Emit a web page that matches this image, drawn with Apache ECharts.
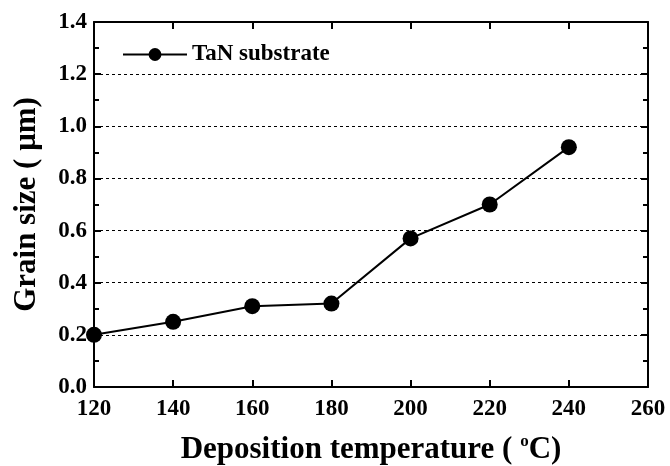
<!DOCTYPE html>
<html>
<head>
<meta charset="utf-8">
<script src="https://cdn.jsdelivr.net/npm/echarts@6/dist/echarts.min.js"></script>
<style>
  html, body { margin: 0; padding: 0; background: #fff; }
  #chart { width: 670px; height: 466px; }
</style>
</head>
<body>
<div id="chart"></div>
<script>
// data
var temperatures = [120, 140, 160, 180, 200, 220, 240];
var grainSize = [0.20, 0.25, 0.31, 0.32, 0.57, 0.70, 0.92];
var seriesName = 'TaN substrate';

var font = 'Liberation Serif';

var chart = echarts.init(document.getElementById('chart'));

chart.setOption({
  animation: false,
  grid: { left: 94, right: 22, top: 22, bottom: 79, outerBoundsMode: 'none' },
  legend: {
    left: 117,
    top: 38,
    itemWidth: 64,
    itemHeight: 16,
    itemGap: 4,
    textStyle: { fontFamily: font, fontWeight: 'bold', fontSize: 23, color: '#000' },
    data: [seriesName]
  },
  xAxis: [{
    type: 'value',
    min: 120, max: 260, interval: 20,
    axisLine: { onZero: false, lineStyle: { color: '#000', width: 2 } },
    axisTick: { inside: true, length: 7, lineStyle: { color: '#000', width: 2 } },
    axisLabel: { margin: 11, fontFamily: font, fontWeight: 'bold', fontSize: 23, color: '#000' },
    splitLine: { show: false },
    name: '{t|Deposition temperature ( }{sup|o}{t|C)}',
    nameLocation: 'middle',
    nameGap: 46,
    nameTextStyle: {
      rich: {
        t: { fontFamily: font, fontWeight: 'bold', fontSize: 31, color: '#000' },
        sup: { fontFamily: font, fontWeight: 'bold', fontSize: 17, color: '#000', verticalAlign: 'top', padding: [0, 0, 16, 0] }
      }
    }
  }, {
    type: 'value', position: 'top',
    min: 120, max: 260, interval: 20,
    axisLine: { onZero: false, lineStyle: { color: '#000', width: 2 } },
    axisTick: { inside: true, length: 7, lineStyle: { color: '#000', width: 2 } },
    axisLabel: { show: false },
    splitLine: { show: false }
  }],
  yAxis: [{
    type: 'value',
    min: 0, max: 1.4, interval: 0.2,
    axisLine: { onZero: false, lineStyle: { color: '#000', width: 2 } },
    axisTick: { inside: true, length: 7, lineStyle: { color: '#000', width: 2 } },
    minorTick: { show: true, splitNumber: 2, length: 5, lineStyle: { color: '#000', width: 2 } },
    axisLabel: {
      margin: 7, fontFamily: font, fontWeight: 'bold', fontSize: 23, color: '#000',
      formatter: function (v) { return v.toFixed(1); }
    },
    splitLine: {
      show: true,
      lineStyle: { color: '#000', width: 1, type: [3, 3] }
    },
    name: 'Grain size ( \u03bcm)',
    nameLocation: 'middle',
    nameGap: 52,
    nameTextStyle: { fontFamily: font, fontWeight: 'bold', fontSize: 31, color: '#000' }
  }, {
    type: 'value', position: 'right',
    min: 0, max: 1.4, interval: 0.2,
    axisLine: { onZero: false, lineStyle: { color: '#000', width: 2 } },
    axisTick: { inside: true, length: 7, lineStyle: { color: '#000', width: 2 } },
    minorTick: { show: true, splitNumber: 2, length: 5, lineStyle: { color: '#000', width: 2 } },
    axisLabel: { show: false },
    splitLine: { show: false }
  }],
  series: [{
    name: seriesName,
    type: 'line',
    xAxisIndex: 0,
    yAxisIndex: 0,
    data: temperatures.map(function (t, i) { return [t, grainSize[i]]; }),
    symbol: 'circle',
    symbolSize: 16,
    itemStyle: { color: '#000' },
    lineStyle: { color: '#000', width: 2 }
  }]
});
</script>
</body>
</html>
